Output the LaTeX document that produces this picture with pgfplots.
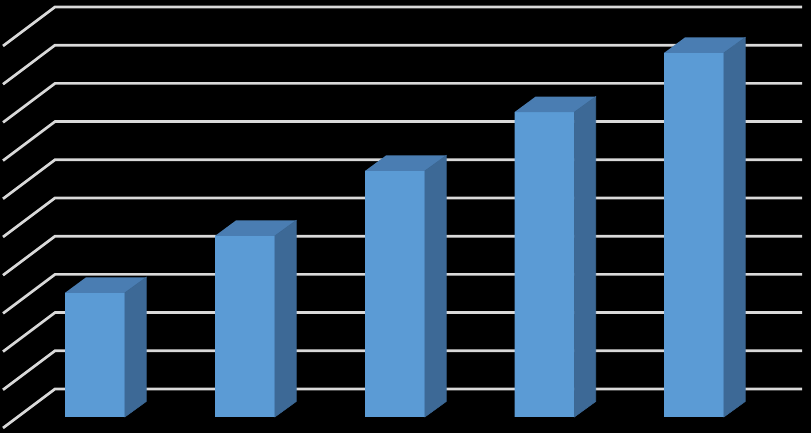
\documentclass[border=0pt]{standalone}
\usepackage{pgfplots}
\pgfplotsset{compat=1.18}
\definecolor{front}{HTML}{5B9BD5}
\definecolor{topc}{HTML}{4A7DB2}
\definecolor{side}{HTML}{3D6996}
\definecolor{gridc}{HTML}{D9D9D9}
\begin{document}
\begin{tikzpicture}
\begin{axis}[
  scale only axis, width=811bp, height=433bp,
  xmin=0, xmax=811, ymin=-0.419, ymax=10.916,
  hide axis, clip=true,
]
\addplot[fill=black, draw=none] coordinates {(0,-0.419) (811,-0.419) (811,10.916) (0,10.916)} -- cycle;
% wall gridlines (back wall, levels 0..10 offset by floor depth)
\pgfplotsinvokeforeach{0,...,10}{
  \addplot[color=gridc, line width=2.7bp, mark=none] coordinates {(3,#1-0.288) (55,#1+0.733) (802,#1+0.733)};
}
% bars: front faces
\addplot[ybar, bar width=60, fill=front, draw=none] coordinates {
 (95,3.25) (245,4.74) (395,6.44) (544.5,7.98) (694,9.53)};
% top faces
\addplot[fill=topc, draw=none] coordinates {(65,3.25) (125,3.25) (146.5,3.656) (86,3.656)} -- cycle;
\addplot[fill=topc, draw=none] coordinates {(215,4.74) (275,4.74) (296.5,5.146) (236,5.146)} -- cycle;
\addplot[fill=topc, draw=none] coordinates {(365,6.44) (425,6.44) (446.5,6.846) (386,6.846)} -- cycle;
\addplot[fill=topc, draw=none] coordinates {(514.5,7.98) (574.5,7.98) (596,8.386) (535.5,8.386)} -- cycle;
\addplot[fill=topc, draw=none] coordinates {(664,9.53) (724,9.53) (745.5,9.936) (685,9.936)} -- cycle;
% side faces
\addplot[fill=side, draw=side, line width=0.6bp] coordinates {(124.8,0) (146.2,0.406) (146.2,3.656) (124.8,3.25)} -- cycle;
\addplot[fill=side, draw=side, line width=0.6bp] coordinates {(274.8,0) (296.2,0.406) (296.2,5.146) (274.8,4.74)} -- cycle;
\addplot[fill=side, draw=side, line width=0.6bp] coordinates {(424.8,0) (446.2,0.406) (446.2,6.846) (424.8,6.44)} -- cycle;
\addplot[fill=side, draw=side, line width=0.6bp] coordinates {(574.3,0) (595.7,0.406) (595.7,8.386) (574.3,7.98)} -- cycle;
\addplot[fill=side, draw=side, line width=0.6bp] coordinates {(723.8,0) (745.2,0.406) (745.2,9.936) (723.8,9.53)} -- cycle;
\end{axis}
\end{tikzpicture}
\end{document}
